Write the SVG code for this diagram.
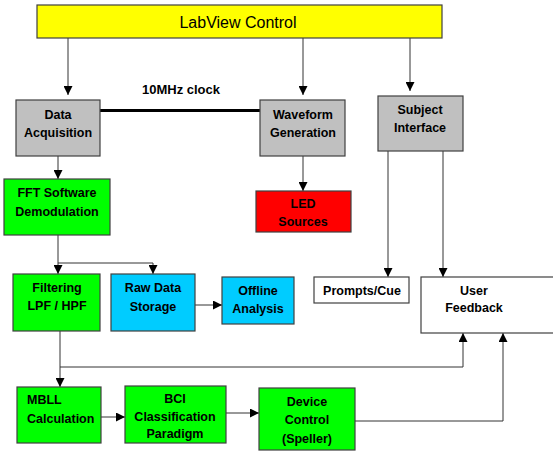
<svg xmlns="http://www.w3.org/2000/svg" width="553" height="451" viewBox="0 0 553 451">
<defs>
<style>
.box{stroke:#404040;stroke-width:1.2}
.t{font-family:"Liberation Sans",Arial,sans-serif;font-size:12.5px;font-weight:bold;fill:#000;text-anchor:middle}
.c{fill:none;stroke:#333;stroke-width:1}
</style>
<marker id="ah" viewBox="0 0 10 10" refX="10" refY="5" markerWidth="9" markerHeight="9" markerUnits="userSpaceOnUse" orient="auto">
<path d="M0,0 L10,5 L0,10 z" fill="#000"/>
</marker>
</defs>
<rect width="553" height="451" fill="#fff"/>
<g id="connectors">
<path class="c" d="M68,38 V95" marker-end="url(#ah)"/>
<path class="c" d="M303,38 V95" marker-end="url(#ah)"/>
<path class="c" d="M410,38 V91" marker-end="url(#ah)"/>
<path d="M100,110.5 H260" stroke="#000" stroke-width="3" fill="none"/>
<path class="c" d="M58,156 V179" marker-end="url(#ah)"/>
<path class="c" d="M303,156 V191" marker-end="url(#ah)"/>
<path class="c" d="M58,235 V274" marker-end="url(#ah)"/>
<path class="c" d="M58,263 H153 V274" marker-end="url(#ah)"/>
<path class="c" d="M195,305 H222" marker-end="url(#ah)"/>
<path class="c" d="M388,151 V277" marker-end="url(#ah)"/>
<path class="c" d="M443,151 V277" marker-end="url(#ah)"/>
<path class="c" d="M60,331 V387" marker-end="url(#ah)"/>
<path class="c" d="M60,367 H463 V333" marker-end="url(#ah)"/>
<path class="c" d="M101,417 H125" marker-end="url(#ah)"/>
<path class="c" d="M226,413 H259" marker-end="url(#ah)"/>
<path class="c" d="M355,421 H503 V333" marker-end="url(#ah)"/>
</g>
<g id="labview">
<rect class="box" x="37" y="5" width="405" height="33" fill="#ffff00"/>
<text x="238" y="28" style="font-family:'Liberation Sans',Arial,sans-serif;font-size:16px;text-anchor:middle">LabView Control</text>
</g>
<g id="clock-label">
<text class="t" x="181" y="94" style="font-size:13px">10MHz clock</text>
</g>
<g id="data-acquisition">
<rect class="box" x="16" y="100" width="84" height="56" fill="#c0c0c0"/>
<text class="t" x="58" y="119">Data</text>
<text class="t" x="58" y="137">Acquisition</text>
</g>
<g id="waveform-generation">
<rect class="box" x="260" y="100" width="85" height="56" fill="#c0c0c0"/>
<text class="t" x="303" y="119">Waveform</text>
<text class="t" x="303" y="137">Generation</text>
</g>
<g id="subject-interface">
<rect class="box" x="378" y="96" width="85" height="55" fill="#c0c0c0"/>
<text class="t" x="420" y="114">Subject</text>
<text class="t" x="420" y="132">Interface</text>
</g>
<g id="fft">
<rect class="box" x="4" y="179" width="106" height="56" fill="#00ff00"/>
<text class="t" x="57" y="197">FFT Software</text>
<text class="t" x="57" y="216">Demodulation</text>
</g>
<g id="led">
<rect class="box" x="256" y="191" width="95" height="41" fill="#ff0000"/>
<text class="t" x="303" y="208">LED</text>
<text class="t" x="303" y="226">Sources</text>
</g>
<g id="filtering">
<rect class="box" x="13" y="274" width="87" height="57" fill="#00ff00"/>
<text class="t" x="57" y="292">Filtering</text>
<text class="t" x="57" y="310">LPF / HPF</text>
</g>
<g id="raw-data">
<rect class="box" x="111" y="274" width="84" height="57" fill="#00ccff"/>
<text class="t" x="153" y="292">Raw Data</text>
<text class="t" x="153" y="311">Storage</text>
</g>
<g id="offline">
<rect class="box" x="222" y="277" width="72" height="47" fill="#00ccff"/>
<text class="t" x="258" y="295">Offline</text>
<text class="t" x="258" y="313">Analysis</text>
</g>
<g id="prompts">
<rect class="box" x="314" y="277" width="95" height="26" fill="#ffffff"/>
<text class="t" x="362" y="295">Prompts/Cue</text>
</g>
<g id="user-feedback">
<rect class="box" x="421" y="277" width="140" height="56" fill="#ffffff"/>
<text class="t" x="474" y="295">User</text>
<text class="t" x="474" y="312">Feedback</text>
</g>
<g id="mbll">
<rect class="box" x="17" y="387" width="84" height="56" fill="#00ff00"/>
<text class="t" x="27" y="404" style="text-anchor:start">MBLL</text>
<text class="t" x="27" y="423" style="text-anchor:start">Calculation</text>
</g>
<g id="bci">
<rect class="box" x="125" y="386" width="101" height="57" fill="#00ff00"/>
<text class="t" x="175" y="403">BCI</text>
<text class="t" x="175" y="421">Classification</text>
<text class="t" x="175" y="438">Paradigm</text>
</g>
<g id="device-control">
<rect class="box" x="259" y="388" width="96" height="62" fill="#00ff00"/>
<text class="t" x="307" y="406">Device</text>
<text class="t" x="307" y="424">Control</text>
<text class="t" x="307" y="443">(Speller)</text>
</g>
</svg>
